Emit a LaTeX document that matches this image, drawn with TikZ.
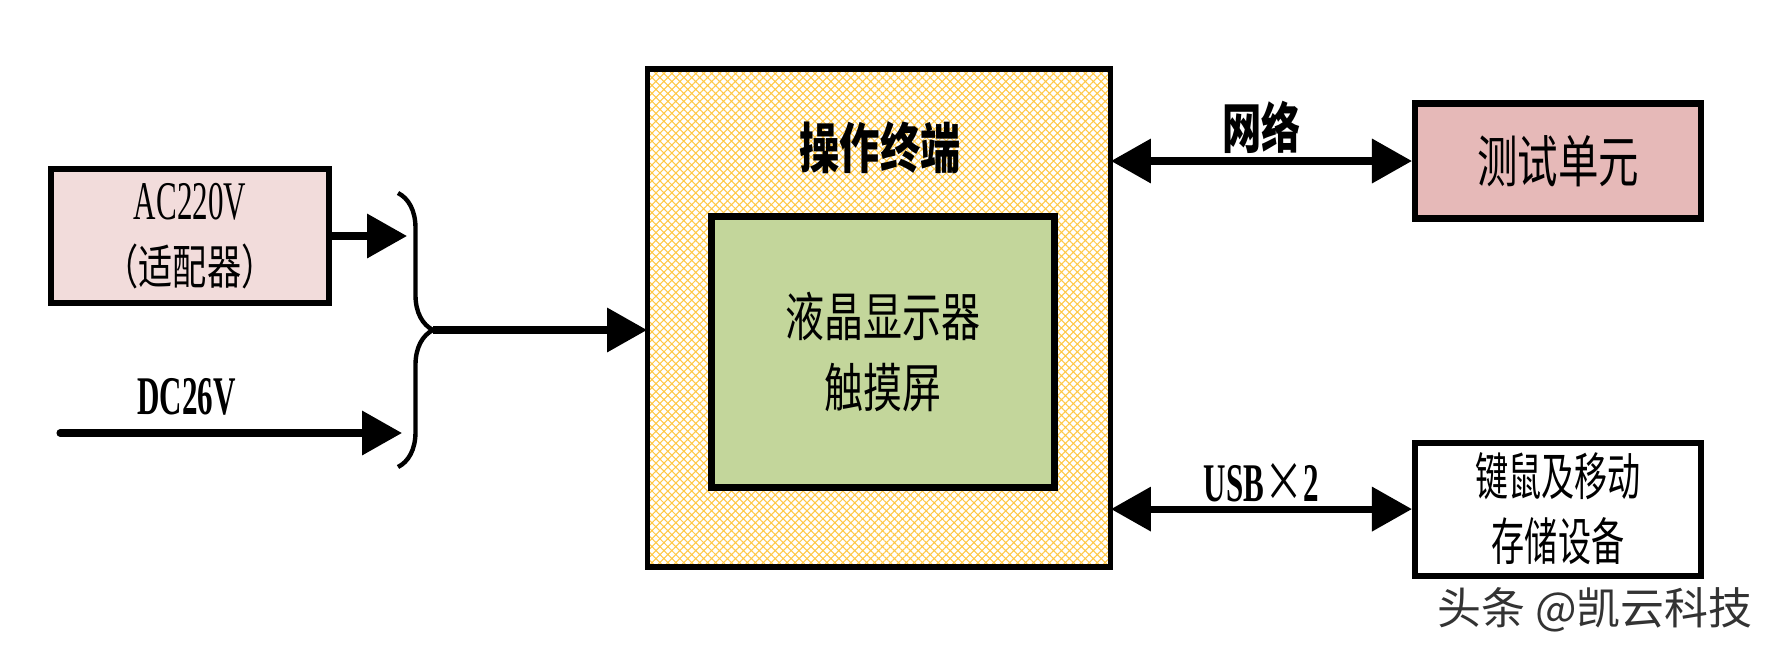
\documentclass[tikz,border=0pt]{standalone}
\usepackage{fontspec}
\setmainfont{Liberation Serif}[FakeStretch=0.57]
\newfontfamily\cjk{Noto Sans CJK SC}[FakeStretch=0.72]
\newfontfamily\cjknarrow{Noto Sans CJK SC}[FakeStretch=0.65]
\newfontfamily\cjkwide{Noto Sans CJK SC}[FakeStretch=0.74]
\newfontfamily\wmfont{Noto Sans CJK SC}
\usepackage{tikz}
\usetikzlibrary{arrows.meta,positioning,patterns.meta,decorations.pathreplacing}
\definecolor{hatchyellow}{RGB}{255,200,70}
\definecolor{screengreen}{RGB}{195,214,155}
\definecolor{adaptpink}{RGB}{242,220,219}
\definecolor{testrose}{RGB}{230,185,184}

\begin{document}
\begin{tikzpicture}[x=0.02cm, y=-0.02cm, >={Triangle[length=0.8cm, width=0.86cm]},
  terminal/.style={draw, line width=3pt, pattern={Hatch[angle=45, distance=3.2pt, line width=0.6pt]}, pattern color=hatchyellow, minimum width=9.26cm, minimum height=9.96cm},
  screen/.style={draw, line width=4pt, fill=screengreen, minimum width=6.86cm, minimum height=5.44cm, align=center, font=\cjkwide\fontsize{30}{40}\selectfont},
  block/.style={draw, line width=3.5pt, minimum width=5.72cm, align=center, font=\cjknarrow\fontsize{29}{37}\selectfont},
  tag/.style={font=\bfseries\fontsize{31}{31}\selectfont, inner sep=2pt},
  link/.style={line width=4pt, ->},
  duplex/.style={line width=4pt, <->},
  curly/.style={decorate, decoration={brace, amplitude=0.7cm}, line width=2.5pt}
]
  \fill [white] (0,0) rectangle (1778,650);
  \useasboundingbox (0,0) rectangle (1778,650);

  % Operation terminal
  \node [terminal] (term) at (879,318) {};
  \node [font=\cjkwide\bfseries\fontsize{31}{31}\selectfont] (title) at (880,148) {操作终端};
  \node [screen] (lcd) at (883,352) {液晶显示器\\触摸屏};

  % Power inputs
  \node [block, fill=adaptpink, minimum width=5.56cm, minimum height=2.68cm, font=\fontsize{31}{37}\selectfont] (adapter) at (190,236)
    {AC220V\\{\cjk\fontsize{27}{37}\selectfont （适配器）}};
  \coordinate (acend) at (407,236);
  \coordinate (dcstart) at (60,433);
  \coordinate (dcend) at (402,433);
  \coordinate (btop) at (398,193);
  \coordinate (bbot) at (398,467);
  \coordinate (btip) at (433,330);

  % Peripherals
  \node [block, fill=testrose, minimum height=2.3cm, font=\cjk\fontsize{32}{32}\selectfont] (test) at (1558,161) {测试单元};
  \node [block, fill=white, minimum height=2.66cm, below=4.36cm of test] (kbd) {键鼠及移动\\存储设备};

  % Power flow
  \draw [link] (adapter.east |- acend) -- (acend);
  \draw [link, line cap=round] (dcstart) -- node [tag, pos=0.37, above=6pt] (dclabel) {DC26V} (dcend);
  \draw [curly] (btop) -- (bbot);
  \draw [link] (btip) -- (term.west |- btip);

  % Data links
  \draw [duplex] (term.east |- test) -- node [tag, font=\cjk\bfseries\fontsize{31}{31}\selectfont, above=0pt] (net) {网络} (test.west);
  \draw [duplex] (term.east |- kbd) -- node [tag, above=0pt] (usb) {USB{\cjk\mdseries ×}2} (kbd.west);

  % Watermark
  \node [font=\wmfont\fontsize{25}{25}\selectfont, text=black!80] (wm) at (1595,610) {头条 @凯云科技};

\end{tikzpicture}
\end{document}
